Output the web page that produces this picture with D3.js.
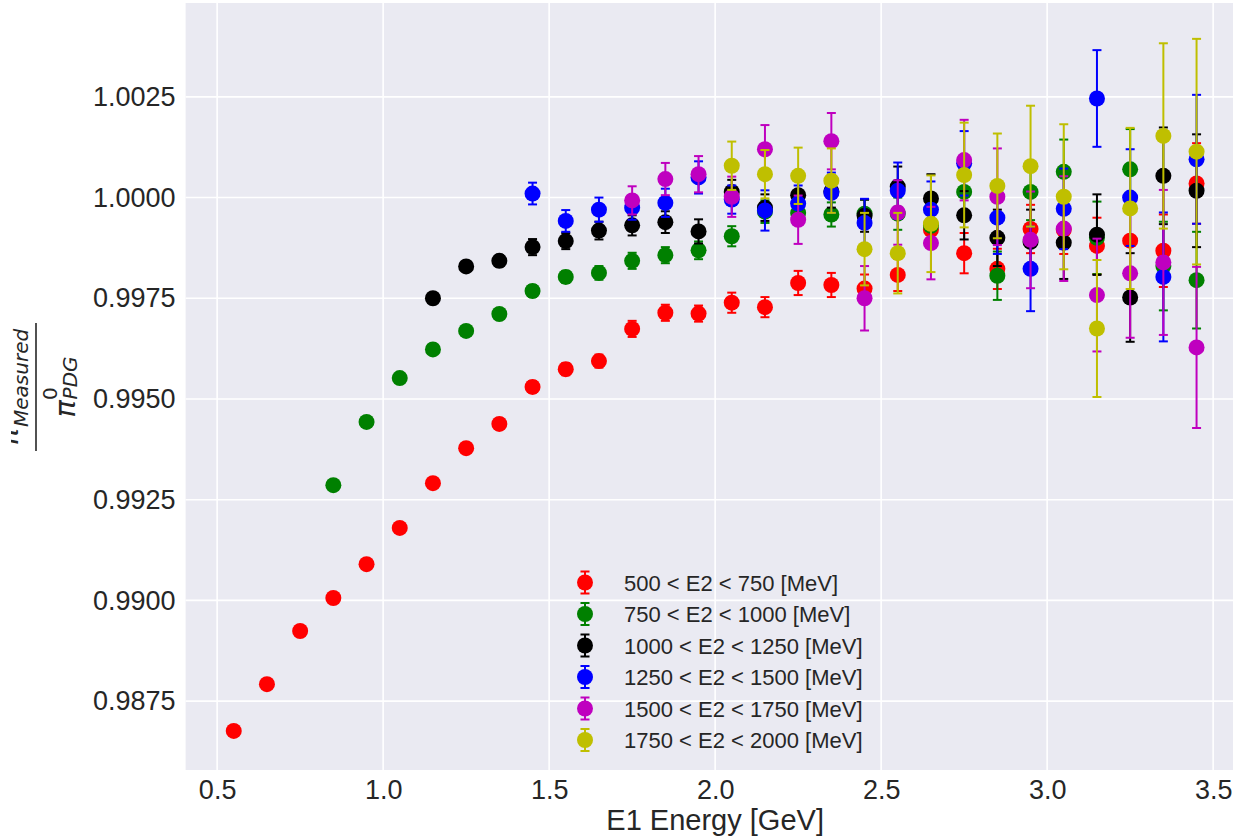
<!DOCTYPE html>
<html>
<head>
<meta charset="utf-8">
<script src="https://cdn.jsdelivr.net/npm/d3@7/dist/d3.min.js"></script>
<style>
body { margin: 0; background: #fff; }
text { font-family: "Liberation Sans", Arial, sans-serif; fill: #262626; }
</style>
</head>
<body>
<svg id="chart"></svg>
<script>
// bin centres of E1 [GeV]
var e1 = [0.55, 0.65, 0.75, 0.85, 0.95, 1.05, 1.15, 1.25, 1.35, 1.45,
	1.55, 1.65, 1.75, 1.85, 1.95, 2.05, 2.15, 2.25, 2.35, 2.45,
	2.55, 2.65, 2.75, 2.85, 2.95, 3.05, 3.15, 3.25, 3.35, 3.45];

var labels = ["500 < E2 < 750 [MeV]", "750 < E2 < 1000 [MeV]", "1000 < E2 < 1250 [MeV]",
	"1250 < E2 < 1500 [MeV]", "1500 < E2 < 1750 [MeV]", "1750 < E2 < 2000 [MeV]"];
var colors = ["#ff0000", "#008000", "#000000", "#0000ff", "#bf00bf", "#bfbf00"];

// each series ends at 3.45, starts later for higher E2
var red = [0.98676, 0.98792, 0.98924, 0.99006, 0.99090, 0.99180, 0.99291, 0.99378, 0.99438, 0.99530,
	0.99574, 0.99594, 0.99674, 0.99714, 0.99712, 0.99739, 0.99728, 0.99788, 0.99783, 0.99774,
	0.99808, 0.99920, 0.99862, 0.99823, 0.99922, 0.99920, 0.99880, 0.99893, 0.99868, 1.00035];
var redErr = [0.00008, 0.00008, 0.00009, 0.0001, 0.0001, 0.0001, 0.00011, 0.00012, 0.00013, 0.00014,
	0.00015, 0.00016, 0.0002, 0.0002, 0.0002, 0.00025, 0.00025, 0.0003, 0.0003, 0.00035,
	0.0004, 0.0004, 0.0005, 0.0005, 0.0006, 0.0006, 0.0007, 0.0008, 0.0009, 0.001];

var green = [0.99286, 0.99443, 0.99552, 0.99623, 0.99669, 0.99711, 0.99768, 0.99803, 0.99813,
	0.99843, 0.99857, 0.99869, 0.99904, 0.99965, 0.99962, 0.99958, 0.99960, 0.99960, 0.99930,
	1.00014, 0.99806, 1.00014, 1.00064, 0.99900, 1.00070, 0.99830, 0.99795];
var greenErr = [0.00008, 0.00009, 0.0001, 0.0001, 0.00011, 0.00012, 0.00014, 0.00015, 0.00017,
	0.0002, 0.0002, 0.00022, 0.00025, 0.00028, 0.0003, 0.0003, 0.00035, 0.0004, 0.00045,
	0.0005, 0.0006, 0.0007, 0.0008, 0.0009, 0.001, 0.0011, 0.0012];

var black = [0.99750, 0.99829, 0.99843, 0.99877, 0.99892, 0.99918, 0.99931, 0.99939, 0.99916,
	1.00014, 0.99975, 1.00006, 1.00015, 0.99955, 1.00027, 0.99998, 0.99956, 0.99900, 0.99890,
	0.99888, 0.99908, 0.99752, 1.00054, 1.00017];
var blackErr = [0.0001, 0.00012, 0.00014, 0.0002, 0.0002, 0.00022, 0.00025, 0.00027, 0.0003,
	0.0003, 0.00033, 0.00035, 0.0004, 0.0004, 0.0005, 0.0006, 0.0006, 0.0007, 0.0008,
	0.0009, 0.001, 0.0011, 0.0012, 0.0014];

var blue = [1.00010, 0.99942, 0.99970, 0.99975, 0.99987, 1.00050, 0.99995, 0.99968, 0.99985,
	1.00012, 0.99937, 1.00017, 0.99970, 1.00085, 0.99950, 0.99823, 0.99972, 1.00246, 1.00000,
	0.99803, 1.00095];
var blueErr = [0.00027, 0.00027, 0.0003, 0.0003, 0.00035, 0.0004, 0.00035, 0.0005, 0.00045,
	0.0005, 0.0006, 0.0007, 0.0007, 0.0008, 0.0009, 0.00105, 0.001, 0.0012, 0.0012,
	0.0016, 0.0016];

var magenta = [0.99993, 1.00046, 1.00058, 1.00002, 1.00120, 0.99945, 1.00140, 0.99750, 0.99963,
	0.99887, 1.00093, 1.00002, 0.99895, 0.99923, 0.99758, 0.99812, 0.99839, 0.99628];
var magentaErr = [0.00035, 0.0004, 0.00045, 0.0005, 0.0006, 0.0006, 0.0007, 0.0008, 0.0008,
	0.0009, 0.001, 0.0012, 0.0012, 0.0013, 0.0014, 0.0016, 0.0018, 0.002];

var yellow = [1.00079, 1.00058, 1.00054, 1.00042, 0.99872, 0.99862, 0.99935, 1.00056, 1.00029,
	1.00078, 1.00002, 0.99675, 0.99973, 1.00153, 1.00114];
var yellowErr = [0.0006, 0.0006, 0.0007, 0.0008, 0.0009, 0.001, 0.0012, 0.0013, 0.0013,
	0.0015, 0.0018, 0.0017, 0.002, 0.0023, 0.0028];

var xTicks = [0.5, 1.0, 1.5, 2.0, 2.5, 3.0, 3.5];
var yTicks = [0.9875, 0.99, 0.9925, 0.995, 0.9975, 1.0, 1.0025];

var width = 1233;
var height = 839;
var plot = { left: 185.6, right: 1244.7, top: 3, bottom: 770 };

var svg = d3.select("#chart")
	.attr("width", width)
	.attr("height", height);

var xScale = d3.scaleLinear()
	.domain([0.405, 3.595])
	.range([plot.left, plot.right]);
var yScale = d3.scaleLinear()
	.domain([0.98579, 1.00483])
	.range([plot.bottom, plot.top]);

svg.append("rect")
	.attr("x", plot.left)
	.attr("y", plot.top)
	.attr("width", plot.right - plot.left)
	.attr("height", plot.bottom - plot.top)
	.attr("fill", "#eaeaf2");

// grid
svg.append("g")
	.selectAll("line")
	.data(xTicks)
	.enter()
	.append("line")
	.attr("x1", function (d) { return xScale(d); })
	.attr("x2", function (d) { return xScale(d); })
	.attr("y1", plot.top)
	.attr("y2", plot.bottom)
	.attr("stroke", "#fff")
	.attr("stroke-width", 1.6);
svg.append("g")
	.selectAll("line")
	.data(yTicks)
	.enter()
	.append("line")
	.attr("x1", plot.left)
	.attr("x2", plot.right)
	.attr("y1", function (d) { return yScale(d); })
	.attr("y2", function (d) { return yScale(d); })
	.attr("stroke", "#fff")
	.attr("stroke-width", 1.6);

// axes, no spines
var xAxis = d3.axisBottom(xScale).tickValues(xTicks).tickFormat(d3.format(".1f")).tickSize(0).tickPadding(10);
var yAxis = d3.axisLeft(yScale).tickValues(yTicks).tickFormat(d3.format(".4f")).tickSize(0).tickPadding(10);
var gx = svg.append("g")
	.attr("transform", "translate(0," + plot.bottom + ")")
	.call(xAxis);
var gy = svg.append("g")
	.attr("transform", "translate(" + plot.left + ",0)")
	.call(yAxis);
[gx, gy].forEach(function (g) {
	g.select(".domain").remove();
	g.selectAll("text")
		.attr("font-family", "Liberation Sans, Arial, sans-serif")
		.attr("font-size", 27)
		.attr("fill", "#262626");
});

svg.append("text")
	.attr("x", (plot.left + plot.right) / 2)
	.attr("y", 830)
	.attr("text-anchor", "middle")
	.attr("font-size", 29)
	.text("E1 Energy [GeV]");

// y label: pi0 measured / pi0 PDG as a fraction (numerator runs off the left edge)
svg.append("clipPath")
	.attr("id", "numclip")
	.append("rect")
	.attr("x", 11)
	.attr("y", 0)
	.attr("width", 40)
	.attr("height", height);
var yl = svg.append("g")
	.attr("transform", "translate(36,387) rotate(-90)")
	.style("font-family", "DejaVu Sans, sans-serif")
	.style("font-style", "italic");
var num = svg.append("g")
	.attr("clip-path", "url(#numclip)")
	.append("g")
	.attr("transform", "translate(36,387) rotate(-90)")
	.append("text")
	.attr("x", 0)
	.attr("y", -18)
	.attr("text-anchor", "middle")
	.style("font-family", "DejaVu Sans, sans-serif")
	.style("font-style", "italic")
	.attr("font-size", 29);
num.append("tspan").text("π");
num.append("tspan").attr("font-size", 20).attr("dy", -14).style("font-style", "normal").text("0");
num.append("tspan").attr("font-size", 20).attr("dx", -12).attr("dy", 24).text("Measured");
yl.append("line")
	.attr("x1", -64)
	.attr("x2", 64)
	.attr("y1", 0)
	.attr("y2", 0)
	.attr("stroke", "#262626")
	.attr("stroke-width", 1.6);
var den = yl.append("text")
	.attr("x", 0)
	.attr("y", 39)
	.attr("text-anchor", "middle")
	.style("font-family", "DejaVu Sans, sans-serif")
	.attr("font-size", 29);
den.append("tspan").text("π");
den.append("tspan").attr("font-size", 20).attr("dy", -18).style("font-style", "normal").text("0");
den.append("tspan").attr("font-size", 20).attr("dx", -12).attr("dy", 20).text("PDG");

// series
var values = [red, green, black, blue, magenta, yellow];
var errors = [redErr, greenErr, blackErr, blueErr, magentaErr, yellowErr];
var cap = 4.5;

values.forEach(function (vals, s) {
	var xs = e1.slice(e1.length - vals.length);
	var pts = vals.map(function (v, i) {
		return { x: xs[i], y: v, e: errors[s][i] };
	});
	var g = svg.append("g").attr("stroke", colors[s]).attr("fill", colors[s]);
	g.selectAll(".bar")
		.data(pts)
		.enter()
		.append("line")
		.attr("x1", function (d) { return xScale(d.x); })
		.attr("x2", function (d) { return xScale(d.x); })
		.attr("y1", function (d) { return yScale(d.y - d.e); })
		.attr("y2", function (d) { return yScale(d.y + d.e); })
		.attr("stroke-width", 2);
	g.selectAll(".capT")
		.data(pts)
		.enter()
		.append("line")
		.attr("x1", function (d) { return xScale(d.x) - cap; })
		.attr("x2", function (d) { return xScale(d.x) + cap; })
		.attr("y1", function (d) { return yScale(d.y + d.e); })
		.attr("y2", function (d) { return yScale(d.y + d.e); })
		.attr("stroke-width", 2);
	g.selectAll(".capB")
		.data(pts)
		.enter()
		.append("line")
		.attr("x1", function (d) { return xScale(d.x) - cap; })
		.attr("x2", function (d) { return xScale(d.x) + cap; })
		.attr("y1", function (d) { return yScale(d.y - d.e); })
		.attr("y2", function (d) { return yScale(d.y - d.e); })
		.attr("stroke-width", 2);
	g.selectAll("circle")
		.data(pts)
		.enter()
		.append("circle")
		.attr("cx", function (d) { return xScale(d.x); })
		.attr("cy", function (d) { return yScale(d.y); })
		.attr("r", 8)
		.attr("stroke", "none");
});

// legend
var legend = svg.append("g");
labels.forEach(function (lab, i) {
	var ly = 582.5 + i * 31.5;
	var row = legend.append("g").attr("transform", "translate(585," + ly + ")");
	row.append("line").attr("x1", 0).attr("x2", 0).attr("y1", -11).attr("y2", 11)
		.attr("stroke", colors[i]).attr("stroke-width", 2);
	row.append("line").attr("x1", -cap).attr("x2", cap).attr("y1", -11).attr("y2", -11)
		.attr("stroke", colors[i]).attr("stroke-width", 2);
	row.append("line").attr("x1", -cap).attr("x2", cap).attr("y1", 11).attr("y2", 11)
		.attr("stroke", colors[i]).attr("stroke-width", 2);
	row.append("circle").attr("r", 8).attr("fill", colors[i]);
	row.append("text")
		.attr("x", 39)
		.attr("y", 8)
		.attr("font-size", 22)
		.text(lab);
});
</script>
</body>
</html>
